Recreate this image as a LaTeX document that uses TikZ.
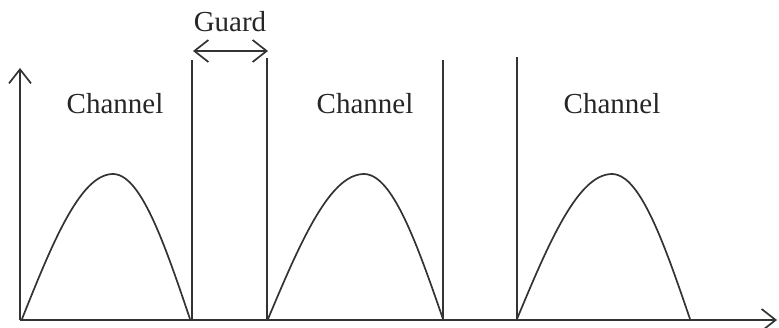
\documentclass[tikz,border=0pt]{standalone}
\usepackage{fontspec}
\setmainfont{Liberation Serif}
\usetikzlibrary{arrows.meta}
\tikzset{
    lin/.style={line width=1.7pt, draw=black!80},
    barb/.style={-{Straight Barb[length=14pt,width=22pt,line width=1.7pt]}},
    label/.style={font=\fontsize{29}{32}\selectfont, text=black!85}
}
\begin{document}
\begin{tikzpicture}[x=1pt,y=1pt]
        \useasboundingbox (0,0) rectangle (779,327);

        % Ejes
        \coordinate (o) at (20,7);
        \coordinate (ytop) at (20,259);
        \coordinate (xend) at (777,7);
        \draw[lin, barb] (o) -- (ytop);
        \draw[lin, barb] (o) -- (xend);

        % Canales
        \foreach \a/\p/\b [count=\i] in {22/113/190, 268/364/443, 517/612/690} {
            \coordinate (s\i) at (\a,8);
            \coordinate (p\i) at (\p,153);
            \coordinate (e\i) at (\b,8);
            \draw[lin] plot[smooth, domain=0:90, samples=25] ({\a+(\p-\a)/90*\x},{8+145*sin(\x)})
                    -- plot[smooth, domain=0:90, samples=25] ({\p+(\b-\p)/90*\x},{8+145*cos(\x)});
        }
        \node[label] (ch1) at (115,223) {Channel};
        \node[label] (ch2) at (365,223) {Channel};
        \node[label] (ch3) at (612,223) {Channel};

        % Bandas de guarda
        \coordinate (g1b) at (192,7);  \coordinate (g1t) at (192,267);
        \coordinate (g2b) at (267,7);  \coordinate (g2t) at (267,269);
        \coordinate (g3b) at (443,7);  \coordinate (g3t) at (443,267);
        \coordinate (g4b) at (517,7);  \coordinate (g4t) at (517,270);
        \draw[lin] (g1b) -- (g1t);
        \draw[lin] (g2b) -- (g2t);
        \draw[lin] (g3b) -- (g3t);
        \draw[lin] (g4b) -- (g4t);

        % Flecha de guarda
        \coordinate (gl) at (193,276);
        \coordinate (gr) at (268,276);
        \draw[lin, {Straight Barb[length=14pt,width=22pt,line width=1.7pt]}-{Straight Barb[length=14pt,width=22pt,line width=1.7pt]}] (gl) -- (gr);
        \node[label] (guard) at (230,305) {Guard};
    \end{tikzpicture}
\end{document}
